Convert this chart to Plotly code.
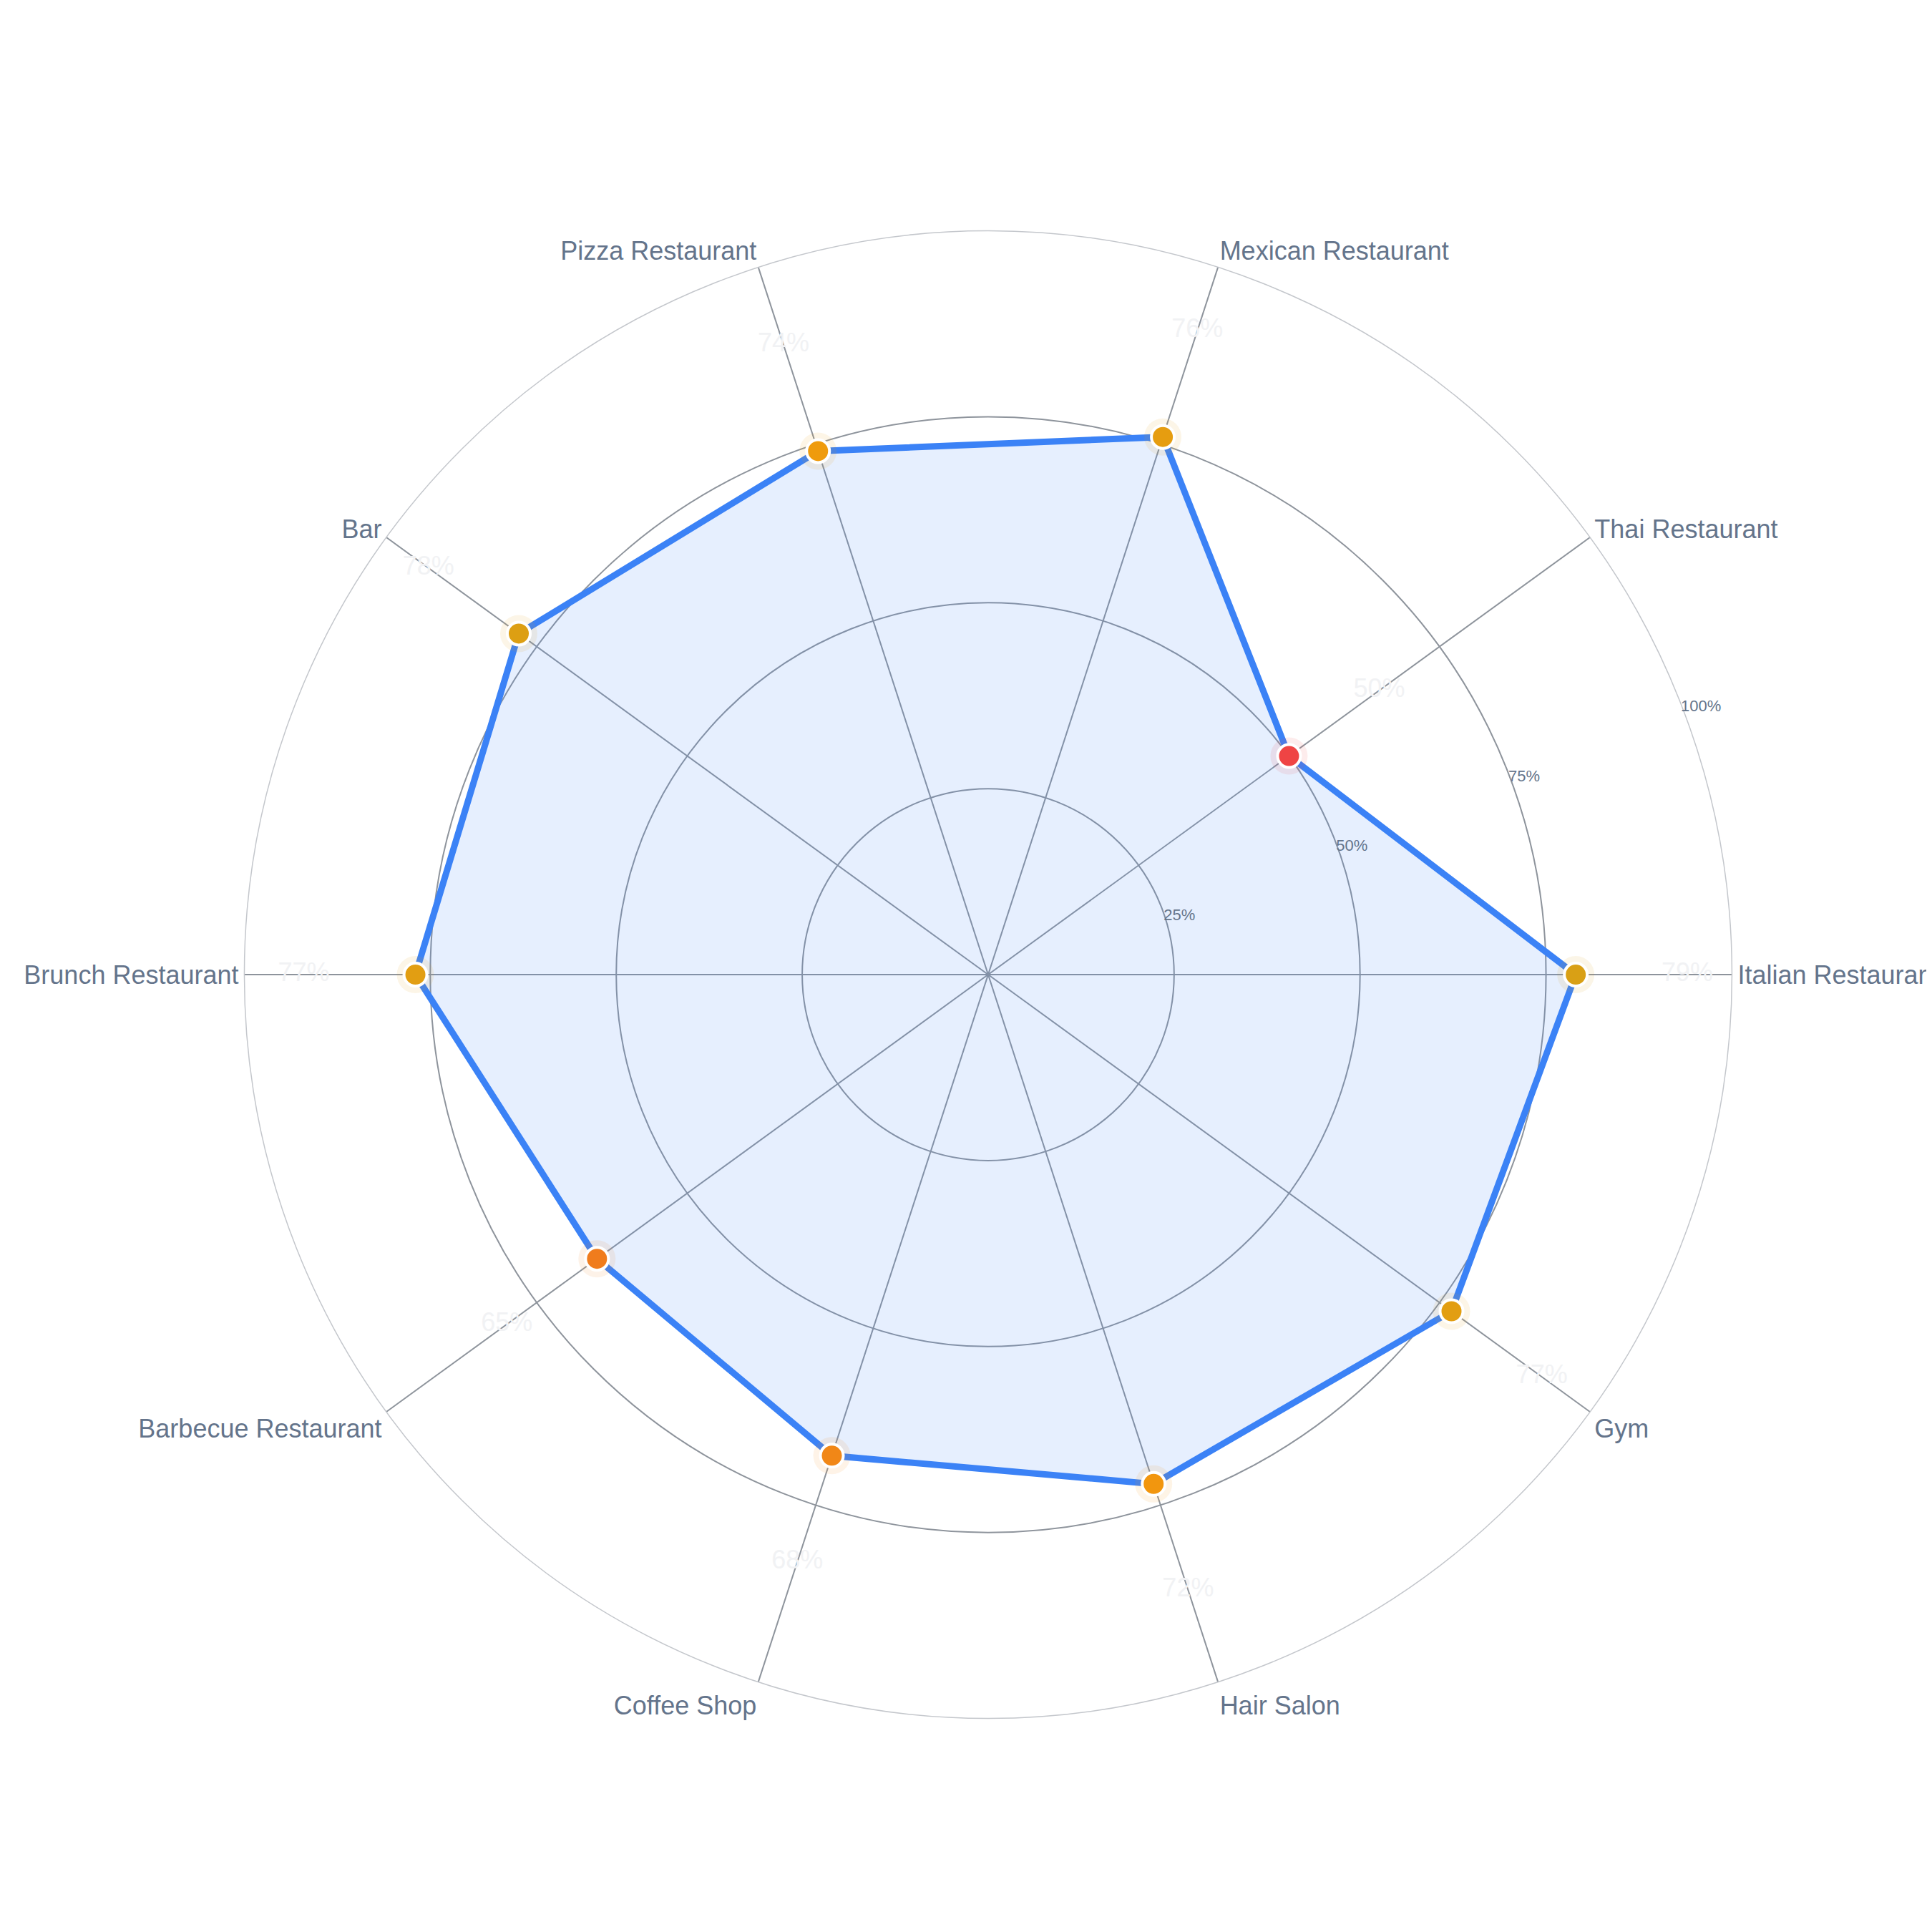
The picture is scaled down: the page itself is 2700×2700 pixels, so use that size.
import plotly.graph_objects as go

categories = ["Italian Restaurant", "Thai Restaurant", "Mexican Restaurant", "Pizza Restaurant", "Bar",
              "Brunch Restaurant", "Barbecue Restaurant", "Coffee Shop", "Hair Salon", "Gym"]
values = [79, 50, 76, 74, 78, 77, 65, 68, 72, 77]
tick_vals = [25, 50, 75, 100]
tick_text = ["25%", "50%", "75%", "100%"]

scale = [[0, "#ef4444"], [0.5, "#f07a1e"], [0.8, "#f29a0c"], [1, "#d9a015"]]
font = "Liberation Sans, Arial, sans-serif"

fig = go.Figure()
fig.add_trace(go.Scatterpolar(
    r=values + values[:1], theta=categories + categories[:1], mode="lines",
    line=dict(color="#3b82f6", width=9), fill="toself", fillcolor="rgba(59,130,246,0.13)",
    hoverinfo="skip", showlegend=False))
fig.add_trace(go.Scatterpolar(
    r=values, theta=categories, mode="markers",
    marker=dict(size=52, color=values, colorscale=scale, cmin=50, cmax=79, opacity=0.1),
    hoverinfo="skip", showlegend=False))
fig.add_trace(go.Scatterpolar(
    r=values, theta=categories, mode="markers",
    marker=dict(size=32, color=values, colorscale=scale, cmin=50, cmax=79,
                line=dict(color="white", width=4)),
    showlegend=False))
fig.add_trace(go.Scatterpolar(
    r=[v + 15 for v in values], theta=categories, mode="text",
    text=[f"{v}%" for v in values], textfont=dict(size=36, color="#f1f2f4", family=font),
    hoverinfo="skip", showlegend=False))

fig.update_layout(
    width=2700, height=2700, paper_bgcolor="white", font=dict(family=font),
    margin=dict(l=0, r=0, t=0, b=0),
    polar=dict(
        domain=dict(x=[0.1235, 0.8935], y=[0.113, 0.884]),
        bgcolor="white",
        angularaxis=dict(rotation=0, direction="counterclockwise", showgrid=True,
                         gridcolor="#8e949c", gridwidth=1.5, linecolor="#c4c7cc", linewidth=1.5,
                         ticks="", tickfont=dict(size=36, color="#64748b")),
        radialaxis=dict(range=[0, 100], tickvals=tick_vals, ticktext=tick_text, angle=22,
                        tickangle=22, showline=False, ticks="", gridcolor="#8e949c", gridwidth=1.5,
                        tickfont=dict(size=22, color="#64748b")),
    ),
)
fig.write_html("out.html")
